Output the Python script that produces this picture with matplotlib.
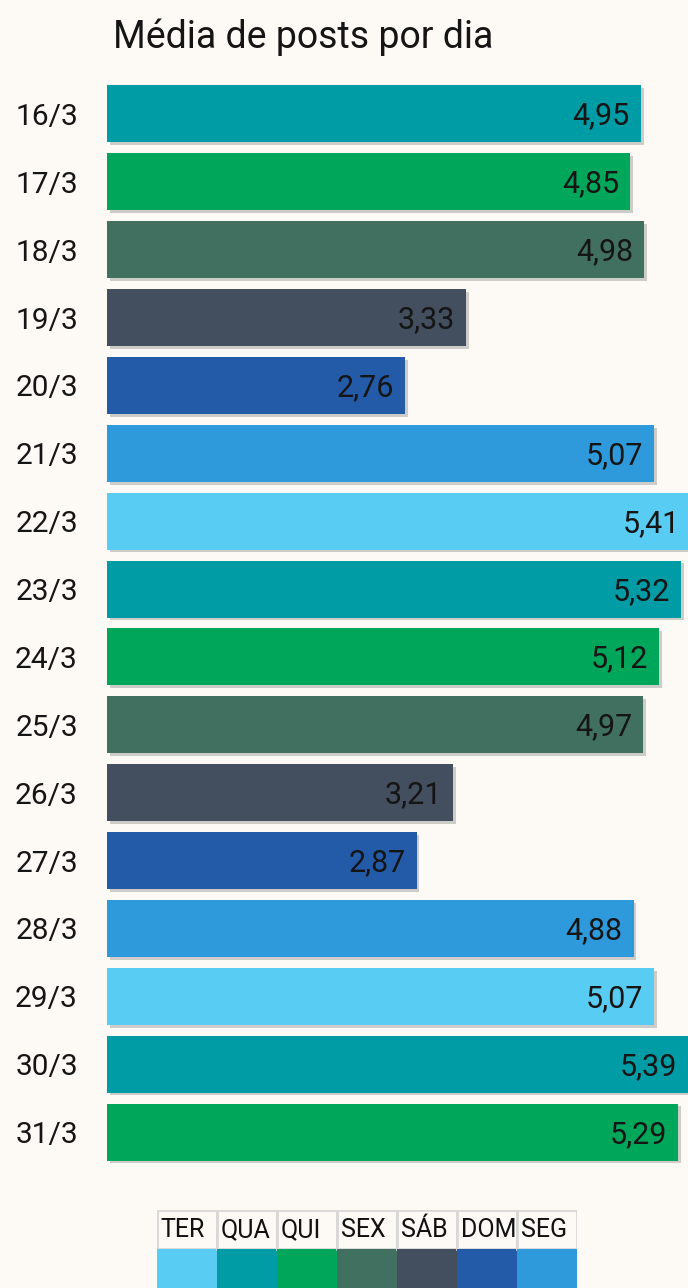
import matplotlib.pyplot as plt
import matplotlib.patheffects as pe
from matplotlib.patches import Rectangle

plt.rcParams['font.family'] = ['Roboto', 'DejaVu Sans']

###data
dates = ['16/3', '17/3', '18/3', '19/3', '20/3', '21/3', '22/3', '23/3',
         '24/3', '25/3', '26/3', '27/3', '28/3', '29/3', '30/3', '31/3']
weekdays = ['QUA', 'QUI', 'SEX', 'SÁB', 'DOM', 'SEG', 'TER', 'QUA',
            'QUI', 'SEX', 'SÁB', 'DOM', 'SEG', 'TER', 'QUA', 'QUI']
values = [4.95, 4.85, 4.98, 3.33, 2.76, 5.07, 5.41, 5.32,
          5.12, 4.97, 3.21, 2.87, 4.88, 5.07, 5.39, 5.29]

legend_days = ['TER', 'QUA', 'QUI', 'SEX', 'SÁB', 'DOM', 'SEG']
day_colors = {'TER': '#58CCF2', 'QUA': '#009CA6', 'QUI': '#00A65A',
              'SEX': '#427060', 'SÁB': '#434E5E', 'DOM': '#235BA8',
              'SEG': '#2E9ADB'}

bg = '#FDFAF5'
W, H = 688, 1288

fig = plt.figure(figsize=(W / 100, H / 100), dpi=100, facecolor=bg)

###main bar axes
ax = fig.add_axes([107 / W, 1 - 1166 / H, 1 - 107 / W, 1086 / H])
ax.set_facecolor(bg)
ypos = list(range(len(dates)))
bars = ax.barh(ypos, values, height=0.84,
               color=[day_colors[d] for d in weekdays])
for b in bars:
    b.set_path_effects([pe.SimplePatchShadow(offset=(2, -2), shadow_rgbFace='#777777', alpha=0.35),
                        pe.Normal()])

for y, v in zip(ypos, values):
    ax.annotate(f'{v:.2f}'.replace('.', ','), xy=(v, y), xytext=(-8, -1.5),
                textcoords='offset points', ha='right', va='center',
                fontsize=22, color='#151515', annotation_clip=False)

ax.set_xlim(0, 5.385)
ax.set_ylim(15.5, -0.5)
ax.set_yticks(ypos)
ax.set_yticklabels(dates, fontsize=21.5, color='#151515')
ax.tick_params(axis='y', length=0, pad=21)
ax.set_xticks([])
for s in ax.spines.values():
    s.set_visible(False)

fig.text(113 / W, 1 - 37 / H, 'Média de posts por dia', fontsize=27,
         ha='left', va='center', color='#151515')

###legend drawn as a small table
lx0, lx1 = 157, 577
lax = fig.add_axes([lx0 / W, 0, (lx1 - lx0) / W, (H - 1210) / H])
lax.set_xlim(0, len(legend_days))
lax.set_ylim(2, 0)
lax.axis('off')
for i, d in enumerate(legend_days):
    lax.add_patch(Rectangle((i, 0), 1, 1, facecolor=bg, edgecolor='#D8D8D8', lw=2))
    lax.add_patch(Rectangle((i, 1), 1, 1, facecolor=day_colors[d], edgecolor='none'))
    lax.text(i + 0.06, 0.52, d, ha='left', va='center', fontsize=18, color='#111111')

fig.savefig('out.png', dpi=100, facecolor=bg)
